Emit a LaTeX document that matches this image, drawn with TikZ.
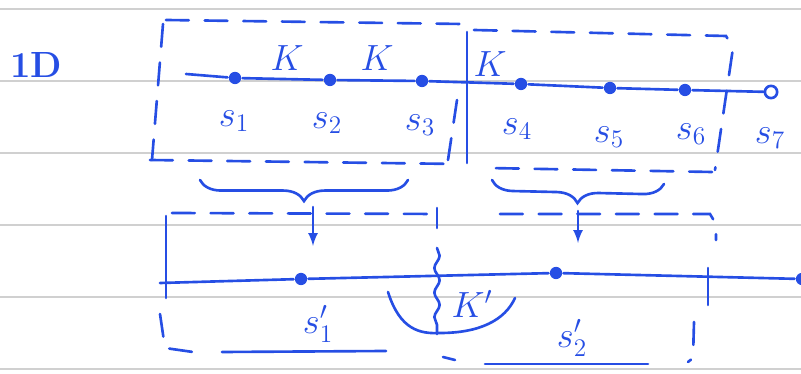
\documentclass[tikz,border=0pt]{standalone}
\usetikzlibrary{arrows.meta, positioning, decorations.pathreplacing, decorations.pathmorphing}
\definecolor{ink}{RGB}{38,78,228}
\definecolor{paperline}{RGB}{208,208,208}

\begin{document}
\begin{tikzpicture}[x=0.02cm, y=-0.02cm, font=\huge, line width=1.5pt, line cap=round,
  dot/.style={circle, fill=ink, inner sep=0pt, minimum size=7pt},
  hollow/.style={circle, draw=ink, fill=white, line width=1.5pt, inner sep=0pt, minimum size=7pt},
  lbl/.style={text=ink, inner sep=1pt},
  frame/.style={draw=ink, dash pattern=on 13pt off 9pt},
  sketch/.style={draw=ink},
  curly/.style={draw=ink, decorate, decoration={brace, mirror, amplitude=12pt}}]
  \useasboundingbox (0,0) rectangle (801,374);

  % lined paper
  \foreach \y in {9,81,153,225,297,369}
    \draw[paperline, line width=1.2pt] (0,\y) -- (801,\y);

  \node[lbl] (dim) at (36,65) {\textbf{1D}};

  % fine chain
  \coordinate (l0) at (186,74);
  \node[dot] (s1) at (235,78) {};
  \node[dot] (s2) at (330,80) {};
  \node[dot] (s3) at (422,81) {};
  \node[dot] (s4) at (521,84) {};
  \node[dot] (s5) at (610,88) {};
  \node[dot] (s6) at (685,90) {};
  \node[hollow] (s7) at (771,92) {};
  \draw[sketch] (l0) -- (s1) -- (s2) -- (s3) -- (s4) -- (s5) -- (s6) -- (s7);

  \node[lbl] (t1) at (234,121) {$s_1$};
  \node[lbl] (t2) at (327,123) {$s_2$};
  \node[lbl] (t3) at (420,125) {$s_3$};
  \node[lbl] (t4) at (517,129) {$s_4$};
  \node[lbl] (t5) at (609,137) {$s_5$};
  \node[lbl] (t6) at (691,134) {$s_6$};
  \node[lbl] (t7) at (770,138) {$s_7$};

  \node[lbl] (k1) at (287,58) {$K$};
  \node[lbl] (k2) at (377,58) {$K$};
  \node[lbl] (k3) at (490,64) {$K$};

  % blocks
  \draw[frame] (166,20) -- (462,24);
  \draw[frame] (163,24) -- (152,160);
  \draw[frame] (150,160) -- (458,164);
  \draw[sketch] (467,32) -- (467,163);
  \draw[frame] (474,30) -- (726,36) -- (733,48) -- (715,170);
  \draw[frame] (712,172) -- (488,168);
  \draw[frame] (457,100) -- (448,160);

  % coarse graining
  \draw[curly] (200,180) -- (408,180);
  \draw[curly] (492,180) -- (664,184);
  \coordinate (a1) at (313,207);
  \coordinate (b1) at (313,246);
  \coordinate (a2) at (578,211);
  \coordinate (b2) at (578,243);
  \draw[sketch, -latex] (a1) -- (b1);
  \draw[sketch, -latex] (a2) -- (b2);

  % coarse chain
  \coordinate (m0) at (160,283);
  \node[dot] (p1) at (301,279) {};
  \node[dot] (p2) at (556,273) {};
  \node[dot] (p3) at (802,279) {};
  \draw[sketch] (m0) -- (p1) -- (p2) -- (p3);

  \node[lbl] (q1) at (318,324) {$s_1'$};
  \node[lbl] (q2) at (572,338) {$s_2'$};
  \node[lbl] (kk) at (472,304) {$K'$};

  % lower blocks
  \draw[frame] (172,213) -- (440,214);
  \draw[sketch] (166,216) -- (166,298);
  \draw[frame] (160,314) -- (165,348) -- (200,353);
  \draw[sketch] (222,352) -- (386,351);
  \draw[sketch] (437,208) -- (437,228);
  \draw[sketch, decorate, decoration={snake, amplitude=1.5pt, segment length=14pt}] (437,248) -- (437,334);
  \draw[frame] (500,214) -- (710,214) -- (716,224) -- (716,240);
  \draw[sketch] (708,268) -- (708,305);
  \draw[frame] (694,322) -- (693,358) -- (688,362);
  \draw[sketch] (443,357) -- (455,360);
  \draw[sketch] (485,364) -- (648,364);
  \draw[sketch] (388,292) .. controls (400,330) and (420,334) .. (440,333)
    .. controls (480,333) and (505,320) .. (515,298);
\end{tikzpicture}
\end{document}
